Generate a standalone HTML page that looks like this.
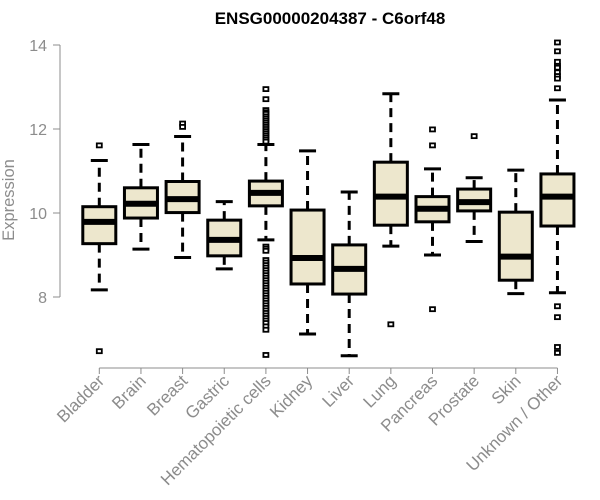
<!DOCTYPE html>
<html><head><meta charset="utf-8"><style>body{margin:0;background:#fff}svg{display:block}text{font-family:"Liberation Sans",sans-serif}</style></head>
<body>
<svg id="chart" width="600" height="500">
<text x="330" y="24" text-anchor="middle" font-weight="bold" font-size="17">ENSG00000204387 - C6orf48</text>
<text transform="translate(14,200) rotate(-90)" text-anchor="middle" font-size="16.5" fill="#8c8c8c">Expression</text>
<g id="plot"></g>
</svg>
<script>
const categories=["Bladder","Brain","Breast","Gastric","Hematopoietic cells","Kidney","Liver","Lung","Pancreas","Prostate","Skin","Unknown / Other"];
const whiskerLow=[8.17,9.14,8.94,8.67,9.36,7.12,6.6,9.21,9.0,9.32,8.08,8.1];
const q1=[9.27,9.88,10.01,8.98,10.17,8.31,8.07,9.71,9.79,10.05,8.40,9.69];
const medians=[9.79,10.22,10.33,9.36,10.48,8.93,8.67,10.39,10.1,10.26,8.96,10.39];
const q3=[10.15,10.60,10.75,9.83,10.76,10.07,9.24,11.21,10.39,10.57,10.02,10.93];
const whiskerHigh=[11.25,11.63,11.82,10.27,11.63,11.48,10.5,12.84,11.05,10.84,11.02,12.69];
const outliers=[[11.61,6.71],[],[12.13,12.05],[],
[12.95,12.71,12.45,12.4,12.36,12.3,12.25,12.2,12.15,12.1,12.05,12.0,11.95,11.9,11.85,11.8,11.75,11.7,
9.2,9.15,9.1,8.88,8.82,8.76,8.7,8.64,8.58,8.52,8.46,8.4,8.34,8.28,8.22,8.16,8.1,8.04,7.98,7.92,7.86,7.8,7.74,7.68,7.62,7.56,7.5,7.44,7.38,7.3,7.22,6.62],
[],[],[7.35],[11.99,11.61,7.71],[11.83],[],
[14.06,13.85,13.6,13.5,13.46,13.35,13.26,13.2,12.97,7.78,7.52,6.81,6.67]];
const yTicks=[8,10,12,14];
const NS="http://www.w3.org/2000/svg";
const g=document.getElementById('plot');
const y=v=>297-(v-8)*42;
const x=i=>99.3+i*41.65;
function mk(t,a){const e=document.createElementNS(NS,t);for(const k in a)e.setAttribute(k,a[k]);g.appendChild(e);return e;}
let ax=mk('line',{x1:60,x2:60,y1:y(14),y2:y(8),stroke:'#8c8c8c'});


yTicks.forEach(v=>{
 let t=mk('line',{x1:53,x2:60,y1:y(v),y2:y(v),stroke:'#8c8c8c'});
 
 
 let l=mk('text',{x:47,y:y(v)+6,'text-anchor':'end','font-size':16,fill:'#8c8c8c'});
 l.textContent=v;
 
 
});
let xa=mk('line',{x1:x(0),x2:x(11),y1:368,y2:368,stroke:'#8c8c8c'});


const hw=16.5;
categories.forEach((c,i)=>{
 const cx=x(i);
 let t=mk('line',{x1:cx,x2:cx,y1:368,y2:374,stroke:'#8c8c8c'});
 
 
 let l=mk('text',{'text-anchor':'end','font-size':17,fill:'#8c8c8c',transform:`translate(${cx+6},${382}) rotate(-45)`});
 l.textContent=c;
 
 
 let w1=mk('line',{x1:cx,x2:cx,y1:y(q3[i]),y2:y(whiskerHigh[i]),stroke:'#000','stroke-width':3,'stroke-dasharray':'9,6'});
 
 
 let w2=mk('line',{x1:cx,x2:cx,y1:y(q1[i]),y2:y(whiskerLow[i]),stroke:'#000','stroke-width':3,'stroke-dasharray':'9,6'});
 
 
 [whiskerHigh[i],whiskerLow[i]].forEach(v=>{
  let c2=mk('line',{x1:cx-8.5,x2:cx+8.5,y1:y(v),y2:y(v),stroke:'#000','stroke-width':3});
  
  
 });
 let b=mk('rect',{x:cx-hw,y:y(q3[i]),width:hw*2,height:y(q1[i])-y(q3[i]),fill:'#ede7cd',stroke:'#000','stroke-width':3});
 
 
 let m=mk('line',{x1:cx-hw,x2:cx+hw,y1:y(medians[i]),y2:y(medians[i]),stroke:'#000','stroke-width':6});
 
 
 outliers[i].forEach(v=>{
  let o=mk('rect',{x:cx-2.5,y:y(v)-2,width:5,height:4,fill:'#fff',stroke:'#000','stroke-width':1.8});
  
  
 });
});
</script>
</body></html>
